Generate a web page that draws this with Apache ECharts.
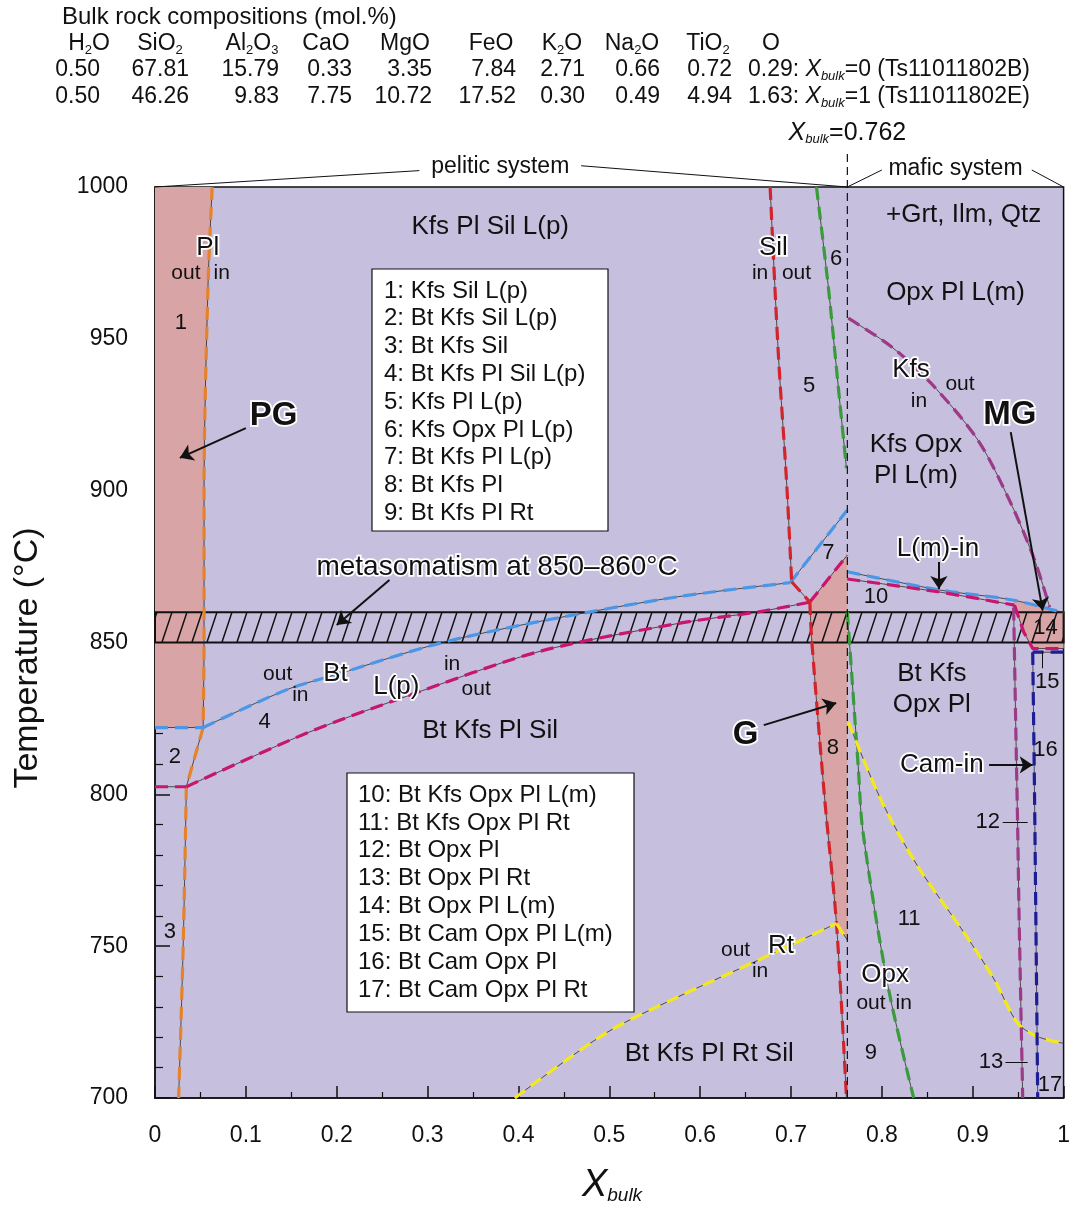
<!DOCTYPE html>
<html><head><meta charset="utf-8">
<script src="https://cdn.jsdelivr.net/npm/echarts@6/dist/echarts.min.js"></script>
<style>html,body{margin:0;padding:0;background:#fff}#chart{width:1073px;height:1207px}</style>
</head><body><div id="chart"></div>
<script>
// ---- composition table ----
const oxideNames = ['H{s|2}O', 'SiO{s|2}', 'Al{s|2}O{s|3}', 'CaO', 'MgO', 'FeO', 'K{s|2}O', 'Na{s|2}O', 'TiO{s|2}', 'O'];
const bulkPelitic = ['0.50', '67.81', '15.79', '0.33', '3.35', '7.84', '2.71', '0.66', '0.72', '0.29'];
const bulkMafic = ['0.50', '46.26', '9.83', '7.75', '10.72', '17.52', '0.30', '0.49', '4.94', '1.63'];
const sampleTags = ['{i|X}{s|bulk}=0 (Ts11011802B)', '{i|X}{s|bulk}=1 (Ts11011802E)'];

// ---- phase boundaries (Xbulk, T in °C) ----
const plUpper = [[0.063, 1000], [0.0585, 969], [0.054, 900], [0.054, 850], [0.053, 822]];
const plKink = [[0.053, 822], [0.0345, 802.5]];
const plLower = [[0.0345, 802.5], [0.031, 750], [0.026, 700]];

const btFlat = [[0, 822], [0.053, 822]];
const btCurve = [[0.053, 822], [0.1445, 834.4], [0.2, 839.5], [0.3128, 849.7], [0.4226, 856.9], [0.5763, 865.1], [0.699, 869.7]];
const btField7 = [[0.699, 869.7], [0.762, 893.6]];
const btMafic = [[0.762, 873.3], [0.8635, 867.3], [0.944, 864], [1.0, 859.8]];

const lpFlat = [[0, 802.5], [0.0345, 802.5]];
const lpCurve = [[0.0345, 802.5], [0.1665, 820.1], [0.276, 832.2], [0.4226, 847], [0.5763, 856.3], [0.664, 860.1], [0.7207, 863.3]];
const lpField7 = [[0.7207, 863.3], [0.762, 878.8]];
const lmMafic = [[0.762, 870.9], [0.8617, 866.7], [0.946, 862.3]];
const lmField14 = [[0.946, 862.3], [0.956, 853.5], [0.966, 848], [1.0, 848]];

const silUpper = [[0.677, 1000], [0.686, 945.2], [0.695, 903.5], [0.7007, 870]];
const silKink = [[0.7007, 870], [0.7207, 863.3]];
const silLower = [[0.7207, 863.3], [0.7226, 851.6], [0.737, 798.6], [0.750, 757.5], [0.761, 700]];

const opxPelitic = [[0.728, 1000], [0.741, 967.2], [0.752, 934.2], [0.761, 907.4]];
const opxMafic = [[0.762, 860], [0.774, 809], [0.779, 788], [0.8068, 736.7], [0.835, 700]];

const rtPelitic = [[0.396, 700], [0.4958, 721.3], [0.5763, 733.4], [0.664, 745.4], [0.750, 757.5]];
const rtKink = [[0.750, 757.5], [0.762, 752]];
const rtMafic = [[0.763, 823.9], [0.7995, 797.9], [0.8397, 776.2], [0.891, 754.2], [0.9239, 738.9], [0.9495, 724.6], [0.9715, 720.2], [1.0, 718]];

const kfsOutCurve = [[0.763, 956.8], [0.8105, 947.4], [0.854, 935.4], [0.9056, 916.7], [0.942, 895.8], [0.968, 877.2], [0.9846, 861.7]];
const kfsOutLower = [[0.945, 861.5], [0.9475, 820], [0.9495, 788], [0.951, 760], [0.955, 700]];

const camFlat = [[1.0, 846.8], [0.966, 846.8]];
const camVertical = [[0.966, 846.8], [0.968, 800], [0.9715, 700]];

// ---- shaded fields (PG, G, MG) ----
const fieldPG = [[0, 822], [0.053, 822], [0.054, 850], [0.054, 900], [0.0585, 969], [0.063, 1000], [0, 1000]];
const fieldG = [[0.7207, 863.3], [0.7226, 851.6], [0.737, 798.6], [0.750, 757.5], [0.762, 752], [0.762, 878.8]];
const fieldMG = [[0.944, 864], [0.946, 862.3], [0.956, 853.5], [0.966, 848], [1.0, 848], [1.0, 859.8]];

// metasomatism interval
const metasomatismBand = [850, 860];
const xSplit = 0.762;

// ---- text ----
const fieldNames = [
  [0.369, 986.8, 'Kfs Pl Sil L(p)'], [0.890, 990.8, '+Grt, Ilm, Qtz'], [0.881, 965.1, 'Opx Pl L(m)'],
  [0.8375, 915, 'Kfs Opx'], [0.8375, 904.8, 'Pl L(m)'], [0.3688, 820.9, 'Bt Kfs Pl Sil'],
  [0.855, 839.6, 'Bt Kfs'], [0.855, 829.4, 'Opx Pl'], [0.610, 714.5, 'Bt Kfs Pl Rt Sil']
];
const phaseNames = [
  [0.058, 980, 'Pl'], [0.6806, 979.9, 'Sil'], [0.832, 939.7, 'Kfs'], [0.1987, 839.6, 'Bt'],
  [0.2656, 835.3, 'L(p)'], [0.689, 750, 'Rt'], [0.8035, 740.5, 'Opx'],
  [0.8617, 880.8, 'L(m)-in'], [0.866, 809.7, 'Cam-in']
];
const inOutWords = [
  [0.034, 971.7, 'out'], [0.0735, 971.7, 'in'], [0.666, 971.7, 'in'], [0.706, 971.7, 'out'],
  [0.886, 935.1, 'out'], [0.8408, 929.5, 'in'], [0.135, 839.6, 'out'], [0.160, 832.7, 'in'],
  [0.327, 842.9, 'in'], [0.3535, 834.7, 'out'], [0.639, 748.7, 'out'], [0.666, 741.8, 'in'],
  [0.788, 731.3, 'out'], [0.824, 731.3, 'in']
];
const fieldNumbers = [
  [0.0285, 955.2, '1'], [0.022, 812.3, '2'], [0.0165, 754.7, '3'], [0.1207, 823.8, '4'],
  [0.72, 934.5, '5'], [0.7497, 976.3, '6'], [0.741, 879.5, '7'], [0.746, 815.3, '8'],
  [0.788, 715, '9'], [0.7936, 865, '10'], [0.83, 759, '11'], [0.9166, 790.9, '12'],
  [0.92, 711.8, '13'], [0.980, 854.8, '14'], [0.982, 837, '15'], [0.980, 814.6, '16'], [0.985, 704.3, '17']
];
const sampleNames = [[0.1306, 924.6, 'PG'], [0.65, 819.5, 'G'], [0.9407, 924.9, 'MG']];
const bandNote = [[0.3765, 874.9, 'metasomatism at 850\u2013860\u00b0C']];
const systemNames = [[0.38, 1006.6, 'pelitic system'], [0.881, 1005.9, 'mafic system']];
const splitNote = [[xSplit, 1017.8, '{i|X}{s|bulk}=0.762']];
const arrows = [
  [[0.1, 920.6], [0.0274, 910.8]], [[0.9418, 919.3], [0.977, 860.5]], [[0.67, 822.8], [0.7497, 830.1]],
  [[0.258, 870.6], [0.2, 855.8]], [[0.8628, 876.5], [0.8628, 867.6]], [[0.918, 809.7], [0.966, 809.7]]
];
const leaders = [
  [[0.933, 790.9], [0.9605, 790.9]], [[0.936, 711.8], [0.9605, 711.8]], [[0.977, 847], [0.977, 841.5]]
];
const legendPelitic = ['1: Kfs Sil L(p)', '2: Bt Kfs Sil L(p)', '3: Bt Kfs Sil', '4: Bt Kfs Pl Sil L(p)',
  '5: Kfs Pl L(p)', '6: Kfs Opx Pl L(p)', '7: Bt Kfs Pl L(p)', '8: Bt Kfs Pl', '9: Bt Kfs Pl Rt'];
const legendMafic = ['10: Bt Kfs Opx Pl L(m)', '11: Bt Kfs Opx Pl Rt', '12: Bt Opx Pl', '13: Bt Opx Pl Rt',
  '14: Bt Opx Pl L(m)', '15: Bt Cam Opx Pl L(m)', '16: Bt Cam Opx Pl', '17: Bt Cam Opx Pl Rt'];

// ---- styling ----
const FONT = '"Liberation Sans", Arial, Helvetica, sans-serif';
const INK = '#111111';
const LAVENDER = '#c6c0de';
const PINK = '#d8a4a6';
const C = {
  pl: '#e5822c', bt: '#4b97e6', melt: '#c8156e', sil: '#d3242b', opx: '#3a9a3c',
  rt: '#f3e81e', kfs: '#9c3a86', cam: '#1d1d94'
};

const chart = echarts.init(document.getElementById('chart'), null, { renderer: 'canvas' });

function boundary(data, color, smooth) {
  const common = { type: 'line', data, symbol: 'none', silent: true, smooth: smooth ? 0.3 : false, animation: false };
  return [
    Object.assign({}, common, { z: 4, lineStyle: { color: '#2a2a2a', width: 0.8 } }),
    Object.assign({}, common, { z: 5, lineStyle: { color, width: 3.2, type: [13, 7] } })
  ];
}

const subRich = {
  s: { fontSize: 13, fontFamily: FONT, fontStyle: 'italic', verticalAlign: 'bottom', lineHeight: 14, fill: INK },
  i: { fontSize: 25, fontFamily: FONT, fontStyle: 'italic', lineHeight: 26, fill: INK }
};

// text placed at (Xbulk, T) through the axes
function textLayer(items, style, z) {
  return {
    type: 'custom', silent: true, z: z || 10, animation: false, clip: false,
    data: items.map(d => [d[0], d[1]]),
    renderItem(params, api) {
      const p = api.coord([api.value(0), api.value(1)]);
      return {
        type: 'text', x: p[0], y: p[1],
        style: Object.assign({
          text: items[params.dataIndex][2], fill: INK, fontFamily: FONT,
          align: 'center', verticalAlign: 'middle'
        }, style)
      };
    }
  };
}
const halo = { stroke: '#fff', lineWidth: 3.5 };

const series = [];
// shaded fields
const pinkFields = [fieldPG, fieldG, fieldMG];
series.push({
  type: 'custom', silent: true, z: 1, animation: false,
  data: pinkFields.map((_, i) => [i]),
  renderItem(params, api) {
    const pts = pinkFields[params.dataIndex].map(p => api.coord(p));
    return { type: 'polygon', shape: { points: pts }, style: { fill: PINK } };
  }
});
// hatched metasomatism band
series.push({
  type: 'custom', silent: true, z: 3, animation: false,
  data: [metasomatismBand],
  renderItem(params, api) {
    const a = api.coord([0, api.value(1)]);
    const b = api.coord([1, api.value(0)]);
    const x0 = a[0], y0 = a[1], x1 = b[0], y1 = b[1], h = y1 - y0;
    const lean = h / 3, step = 15;
    const children = [];
    for (let x = x0 - lean + 2; x < x1; x += step) {
      let bx = x, by = y1, tx = x + lean, ty = y0;
      if (bx < x0) { by = y1 - (x0 - bx) / lean * h; bx = x0; }
      if (tx > x1) { ty = y0 + (tx - x1) / lean * h; tx = x1; }
      if (bx >= x1 || tx <= x0) continue;
      children.push({ type: 'line', shape: { x1: bx, y1: by, x2: tx, y2: ty }, style: { stroke: INK, lineWidth: 1.5 } });
    }
    children.push({ type: 'rect', shape: { x: x0, y: y0, width: x1 - x0, height: h }, style: { fill: null, stroke: INK, lineWidth: 2 } });
    return { type: 'group', children };
  }
});

[[plUpper, C.pl, 1], [plKink, C.pl, 0], [plLower, C.pl, 1],
 [btFlat, C.bt, 0], [btCurve, C.bt, 1], [btField7, C.bt, 0], [btMafic, C.bt, 1],
 [lpFlat, C.melt, 0], [lpCurve, C.melt, 1], [lpField7, C.melt, 0], [lmMafic, C.melt, 1], [lmField14, C.melt, 0],
 [silUpper, C.sil, 1], [silKink, C.sil, 0], [silLower, C.sil, 1],
 [opxPelitic, C.opx, 1], [opxMafic, C.opx, 1],
 [rtPelitic, C.rt, 1], [rtKink, C.rt, 0], [rtMafic, C.rt, 1],
 [kfsOutCurve, C.kfs, 1], [kfsOutLower, C.kfs, 1],
 [camFlat, C.cam, 0], [camVertical, C.cam, 1]
].forEach(b => series.push(...boundary(b[0], b[1], b[2])));

// pelitic / mafic split and bracket lines above the frame
series.push({
  type: 'line', data: [[xSplit, 700], [xSplit, 1011.5]], symbol: 'none', clip: false, silent: true, z: 6,
  lineStyle: { color: INK, width: 1.2, type: [8, 5] }, animation: false
});
[[[0, 1000], [0.291, 1005.4]], [[0.469, 1007.0], [xSplit, 1000]],
 [[xSplit, 1000], [0.8, 1005.6]], [[0.965, 1005.6], [1, 1000]]].forEach(seg => series.push({
  type: 'line', data: seg, symbol: 'none', clip: false, silent: true, z: 6,
  lineStyle: { color: INK, width: 1 }, animation: false
}));

// arrows and leaders
series.push({
  type: 'lines', coordinateSystem: 'cartesian2d', silent: true, z: 8, animation: false,
  symbol: ['none', 'arrow'], symbolSize: 13,
  lineStyle: { color: INK, width: 2, opacity: 1 },
  data: arrows.map(a => ({ coords: a }))
});
series.push({
  type: 'lines', coordinateSystem: 'cartesian2d', silent: true, z: 8, animation: false,
  symbol: 'none', lineStyle: { color: INK, width: 1, opacity: 1 },
  data: leaders.map(a => ({ coords: a }))
});

// text labels
series.push(textLayer(fieldNames, { fontSize: 26 }));
series.push(textLayer(phaseNames, Object.assign({ fontSize: 26 }, halo)));
series.push(textLayer(bandNote, Object.assign({ fontSize: 28 }, halo)));
series.push(textLayer(inOutWords, { fontSize: 21 }));
series.push(textLayer(fieldNumbers, { fontSize: 22 }));
series.push(textLayer(sampleNames, Object.assign({ fontSize: 33, fontWeight: 'bold' }, halo)));
series.push(textLayer(systemNames, { fontSize: 23 }));
series.push(textLayer(splitNote, { fontSize: 25, rich: subRich }));

// ---- page graphics: composition header, legend boxes, axis titles ----
const graphics = [];
graphics.push({
  type: 'text', x: 62, y: 17,
  style: { text: 'Bulk rock compositions (mol.%)', fontSize: 24, fontFamily: FONT, fill: INK, align: 'left', verticalAlign: 'middle' }
});
const colCenter = [89, 160, 252, 326, 405, 491, 562, 632, 708, 771];
const colRight = [100, 189, 279, 352, 432, 516, 585, 660, 732];
const headRich = {
  s: { fontSize: 13, fontFamily: FONT, verticalAlign: 'bottom', lineHeight: 14, fill: INK }
};
const tagRich = {
  s: { fontSize: 13, fontFamily: FONT, fontStyle: 'italic', verticalAlign: 'bottom', lineHeight: 14, fill: INK },
  i: { fontSize: 23, fontFamily: FONT, fontStyle: 'italic', lineHeight: 26, fill: INK }
};
oxideNames.forEach((t, i) => graphics.push({
  type: 'text', x: colCenter[i], y: 44,
  style: { text: t, fontSize: 23, fontFamily: FONT, fill: INK, align: 'center', verticalAlign: 'middle', lineHeight: 26, rich: headRich }
}));
[bulkPelitic, bulkMafic].forEach((row, r) => {
  const y = 70 + r * 27;
  row.slice(0, 9).forEach((v, i) => graphics.push({
    type: 'text', x: colRight[i], y,
    style: { text: v, fontSize: 23, fontFamily: FONT, fill: INK, align: 'right', verticalAlign: 'middle' }
  }));
  graphics.push({
    type: 'text', x: 748, y,
    style: {
      text: row[9] + ': ' + sampleTags[r], fontSize: 23, fontFamily: FONT, fill: INK, align: 'left', verticalAlign: 'middle',
      lineHeight: 26, rich: tagRich
    }
  });
});
function legendBox(x, y, w, h, lines, textX, firstY, gap) {
  const children = [{ type: 'rect', shape: { x, y, width: w, height: h }, style: { fill: '#fff', stroke: INK, lineWidth: 1.2 } }];
  lines.forEach((t, i) => children.push({
    type: 'text', x: textX, y: firstY + i * gap,
    style: { text: t, fontSize: 24, fontFamily: FONT, fill: INK, align: 'left', verticalAlign: 'middle' }
  }));
  return { type: 'group', children, z: 20 };
}
graphics.push(legendBox(372, 269, 236, 262, legendPelitic, 384, 291, 27.8));
graphics.push(legendBox(347, 773, 287, 239, legendMafic, 358, 795, 27.9));
graphics.push({
  type: 'text', x: 28, y: 658, rotation: Math.PI / 2,
  style: { text: 'Temperature (\u00b0C)', fontSize: 34, fontFamily: FONT, fill: INK, align: 'center', verticalAlign: 'middle' }
});
graphics.push({
  type: 'text', x: 612, y: 1185,
  style: {
    text: '{x|X}{b|bulk}', align: 'center', verticalAlign: 'middle', fill: INK,
    rich: {
      x: { fontSize: 38, fontStyle: 'italic', fontFamily: FONT, lineHeight: 40, fill: INK },
      b: { fontSize: 19, fontStyle: 'italic', fontFamily: FONT, verticalAlign: 'bottom', lineHeight: 18, fill: INK }
    }
  }
});

chart.setOption({
  animation: false,
  backgroundColor: '#fff',
  grid: { left: 155, right: 7, top: 187, bottom: 109, show: true, backgroundColor: LAVENDER, borderColor: INK, borderWidth: 1.5 },
  xAxis: {
    type: 'value', min: 0, max: 1, interval: 0.1,
    axisLine: { show: true, lineStyle: { color: INK, width: 1.5 } },
    axisTick: { inside: true, length: 12, lineStyle: { color: INK, width: 1.5 } },
    minorTick: { show: true, splitNumber: 2, length: 6, lineStyle: { color: INK, width: 1.2 } },
    splitLine: { show: false },
    axisLabel: { fontSize: 23, fontFamily: FONT, color: INK, margin: 26, formatter: v => String(Math.round(v * 10) / 10) }
  },
  yAxis: {
    type: 'value', min: 700, max: 1000, interval: 50,
    axisLine: { show: true, lineStyle: { color: INK, width: 1.5 } },
    axisTick: { inside: true, length: 15, lineStyle: { color: INK, width: 1.5 } },
    minorTick: { show: true, splitNumber: 5, length: 8, lineStyle: { color: INK, width: 1.2 } },
    splitLine: { show: false },
    axisLabel: { fontSize: 23, fontFamily: FONT, color: INK, margin: 27, formatter: v => String(v) }
  },
  graphic: graphics,
  series
});
</script></body></html>
